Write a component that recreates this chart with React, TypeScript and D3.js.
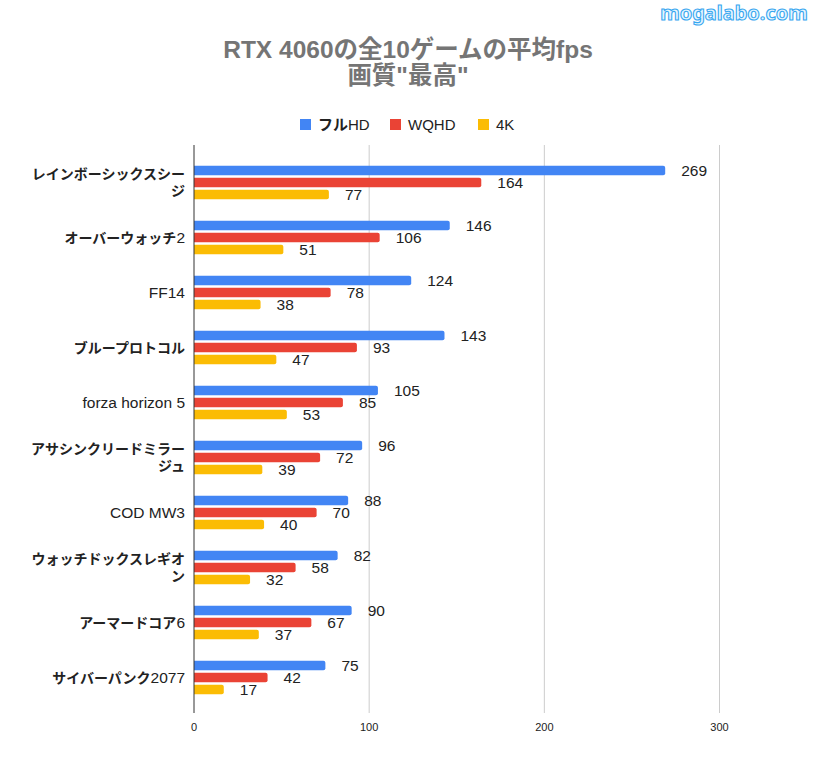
import React from "react";
import * as d3 from "d3";

const categories: string[][] = [
  ["レインボーシックスシー", "ジ"],
  ["オーバーウォッチ2"],
  ["FF14"],
  ["ブループロトコル"],
  ["forza horizon 5"],
  ["アサシンクリードミラー", "ジュ"],
  ["COD MW3"],
  ["ウォッチドックスレギオ", "ン"],
  ["アーマードコア6"],
  ["サイバーパンク2077"],
];
const fullHD = [269, 146, 124, 143, 105, 96, 88, 82, 90, 75];
const wqhd = [164, 106, 78, 93, 85, 72, 70, 58, 67, 42];
const k4 = [77, 51, 38, 47, 53, 39, 40, 32, 37, 17];
const seriesNames = ["フルHD", "WQHD", "4K"];
const colors = ["#4285f4", "#ea4335", "#fbbc04"];
const xTicks = [0, 100, 200, 300];

const FONT = "'Liberation Sans', Arial, 'Noto Sans CJK JP', sans-serif";

function runs(s: string) {
  const out: { t: string; cjk: boolean }[] = [];
  for (const ch of s) {
    const cjk = /[\u3000-\u30ff\u4e00-\u9fff]/.test(ch);
    const last = out[out.length - 1];
    if (last && last.cjk === cjk) last.t += ch;
    else out.push({ t: ch, cjk });
  }
  return out;
}

export default function App() {
  const W = 816, H = 771;
  const x = d3.scaleLinear().domain([0, 300]).range([194, 719.5]);
  const y = d3.scaleBand<number>().domain(d3.range(categories.length)).range([155, 705]);
  const series = [fullHD, wqhd, k4];
  const barH = 9.5, barStep = 12;
  const top = 145, bottom = 713;
  const legendX = [300, 390, 478];

  return (
    <svg width={W} height={H} style={{ position: "absolute", left: 0, top: 0, background: "#fff" }} fontFamily={FONT}>
      <rect width={W} height={H} fill="#fff" />
      <text x={734} y={20} textAnchor="middle" fontSize={20} fontWeight="bold" fill="#e6f6ff" stroke="#39a7f0" strokeWidth={1.1} fontFamily="'Noto Sans', sans-serif">mogalabo.com</text>
      <text x={408} y={58} textAnchor="middle" fontSize={24.5} fontWeight="bold" fill="#757575">RTX 4060の全10ゲームの平均fps</text>
      <text x={408} y={84} textAnchor="middle" fontSize={24.5} fontWeight="bold" fill="#757575">画質"最高"</text>

      {seriesNames.map((n, i) => (
        <g key={n}>
          <rect x={legendX[i]} y={119} width={11} height={11} fill={colors[i]} />
          <text x={legendX[i] + 18} y={130} fontSize={15} fill="#222">
            {runs(n).map((r, j) => (
              <tspan key={j} fontWeight={r.cjk ? "bold" : "normal"}>{r.t}</tspan>
            ))}
          </text>
        </g>
      ))}

      {xTicks.map((t) => (
        <g key={t}>
          {t !== 0 && <line x1={x(t)} x2={x(t)} y1={top} y2={bottom} stroke="#cccccc" strokeWidth={1} />}
          <text x={x(t)} y={731} textAnchor="middle" fontSize={11} fill="#222">{t}</text>
        </g>
      ))}

      {categories.map((lines, ci) => {
        const cy = y(ci)! + y.bandwidth() / 2;
        const lh = 17;
        const y0 = cy - ((lines.length - 1) * lh) / 2 + 5;
        return (
          <g key={ci}>
            {lines.map((l, li) => (
              <text key={li} x={185} y={y0 + li * lh} textAnchor="end" fill="#222">
                {runs(l).map((r, j) => (
                  <tspan key={j} fontWeight={r.cjk ? "bold" : "normal"} fontSize={r.cjk ? 14 : 15.5}>{r.t}</tspan>
                ))}
              </text>
            ))}
            {series.map((s, si) => {
              const by = cy - barStep - barH / 2 + si * barStep;
              const xe = x(s[ci]);
              return (
                <g key={si}>
                  <path
                    d={`M${x(0)},${by}H${xe - 2}Q${xe},${by} ${xe},${by + 2}V${by + barH - 2}Q${xe},${by + barH} ${xe - 2},${by + barH}H${x(0)}Z`}
                    fill={colors[si]}
                  />
                  <text x={xe + 16} y={by + barH / 2 + 5.5} fontSize={15.5} fill="#222">{s[ci]}</text>
                </g>
              );
            })}
          </g>
        );
      })}
      <line x1={x(0)} x2={x(0)} y1={top} y2={bottom} stroke="#333" strokeWidth={1} />
    </svg>
  );
}
